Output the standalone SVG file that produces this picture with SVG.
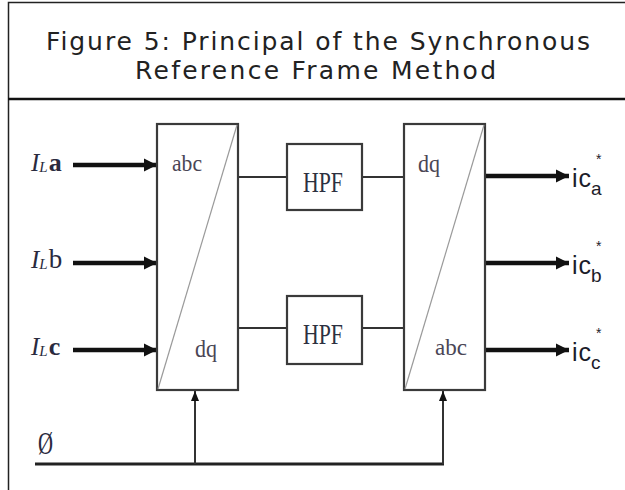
<svg xmlns="http://www.w3.org/2000/svg" width="625" height="490" viewBox="0 0 625 490">
<defs>
<style>
.title{font-family:"DejaVu Sans","Liberation Sans",sans-serif;font-size:25px;font-weight:400;fill:#222;}
.box{fill:#fff;stroke:#3a3a3a;stroke-width:2.2;}
.diag{stroke:#9a9a9a;stroke-width:1.2;fill:none;}
.blk{font-family:"Liberation Serif","Times New Roman",serif;fill:#4a4656;}
.hpf{font-family:"Liberation Serif","Times New Roman",serif;font-size:29px;fill:#2c3040;}
.thick{stroke:#111;stroke-width:4.5;fill:none;}
.thin{stroke:#333;stroke-width:2;fill:none;}
.ser{font-family:"Liberation Serif","Times New Roman",serif;fill:#2a2a3e;}
.san{font-family:"Liberation Sans",Arial,sans-serif;fill:#1c1c2a;}
</style>
<marker id="ah" viewBox="0 0 10 10" refX="10" refY="5" markerWidth="3" markerHeight="3" orient="auto" markerUnits="strokeWidth">
<path d="M0,0 L10,5 L0,10 z" fill="#111"/>
</marker>
<marker id="ahs" viewBox="0 0 10 10" refX="10" refY="5" markerWidth="5" markerHeight="5" orient="auto" markerUnits="strokeWidth">
<path d="M0,1 L10,5 L0,9 z" fill="#111"/>
</marker>
</defs>
<rect x="0" y="0" width="625" height="490" fill="#fff"/>
<g id="frame">
<path d="M8.5,490 V2.5 H625" fill="none" stroke="#222" stroke-width="1.5"/>
<line x1="8" y1="99" x2="625" y2="99" stroke="#111" stroke-width="2.5"/>
</g>
<g id="title">
<text class="title" x="46" y="50" textLength="544" lengthAdjust="spacing">Figure 5: Principal of the Synchronous</text>
<text class="title" x="135" y="79" textLength="361" lengthAdjust="spacing">Reference Frame Method</text>
</g>
<g id="connectors">
<line class="thick" x1="73" y1="165" x2="157" y2="165" marker-end="url(#ah)"/>
<line class="thick" x1="73" y1="263" x2="157" y2="263" marker-end="url(#ah)"/>
<line class="thick" x1="73" y1="350" x2="157" y2="350" marker-end="url(#ah)"/>
<line class="thin" x1="238" y1="177" x2="287" y2="177"/>
<line class="thin" x1="362" y1="177" x2="404" y2="177"/>
<line class="thin" x1="238" y1="328" x2="287" y2="328"/>
<line class="thin" x1="362" y1="328" x2="404" y2="328"/>
<line class="thick" x1="485" y1="176" x2="569" y2="176" marker-end="url(#ah)"/>
<line class="thick" x1="485" y1="263" x2="569" y2="263" marker-end="url(#ah)"/>
<line class="thick" x1="485" y1="350" x2="569" y2="350" marker-end="url(#ah)"/>
<line x1="35" y1="464" x2="444" y2="464" stroke="#222" stroke-width="3"/>
<line class="thin" x1="195" y1="464" x2="195" y2="391" marker-end="url(#ahs)"/>
<line class="thin" x1="443" y1="464" x2="443" y2="391" marker-end="url(#ahs)"/>
</g>
<g id="abc2dq">
<rect class="box" x="157" y="124" width="81" height="266"/>
<line class="diag" x1="237" y1="125" x2="158" y2="389"/>
<text class="blk" x="172" y="171" font-size="23" textLength="30" lengthAdjust="spacingAndGlyphs">abc</text>
<text class="blk" x="195" y="357" font-size="25" textLength="22" lengthAdjust="spacingAndGlyphs">dq</text>
</g>
<g id="hpf1">
<rect class="box" x="287" y="144" width="75" height="66"/>
<text class="hpf" x="303" y="192" textLength="40" lengthAdjust="spacingAndGlyphs">HPF</text>
</g>
<g id="hpf2">
<rect class="box" x="287" y="296" width="75" height="68"/>
<text class="hpf" x="303" y="344" textLength="40" lengthAdjust="spacingAndGlyphs">HPF</text>
</g>
<g id="dq2abc">
<rect class="box" x="404" y="124" width="81" height="266"/>
<line class="diag" x1="484" y1="125" x2="405" y2="389"/>
<text class="blk" x="418" y="172" font-size="25" textLength="22" lengthAdjust="spacingAndGlyphs">dq</text>
<text class="blk" x="435" y="355" font-size="23" textLength="32" lengthAdjust="spacingAndGlyphs">abc</text>
</g>
<g id="inputs">
<text class="ser" x="31" y="171"><tspan font-size="25" font-style="italic">I</tspan><tspan font-size="15" font-style="italic" dy="1">L</tspan><tspan font-size="26" font-weight="bold" dy="-1" dx="1">a</tspan></text>
<text class="ser" x="31" y="268"><tspan font-size="25" font-style="italic">I</tspan><tspan font-size="15" font-style="italic" dy="1">L</tspan><tspan font-size="27" dy="-1" dx="1">b</tspan></text>
<text class="ser" x="31" y="355"><tspan font-size="25" font-style="italic">I</tspan><tspan font-size="15" font-style="italic" dy="1">L</tspan><tspan font-size="26" font-weight="bold" dy="-1" dx="1">c</tspan></text>
<text class="ser" x="38" y="454" font-size="32" fill="#555" textLength="15" lengthAdjust="spacingAndGlyphs">Ø</text>
</g>
<g id="outputs">
<text class="san" x="572" y="187" font-size="25">i<tspan dx="1">c</tspan><tspan font-size="19" dy="8">a</tspan></text>
<text class="san" x="596" y="164" font-size="14">*</text>
<text class="san" x="572" y="274" font-size="25">i<tspan dx="1">c</tspan><tspan font-size="19" dy="8">b</tspan></text>
<text class="san" x="596" y="251" font-size="14">*</text>
<text class="san" x="572" y="361" font-size="25">i<tspan dx="1">c</tspan><tspan font-size="19" dy="8">c</tspan></text>
<text class="san" x="596" y="338" font-size="14">*</text>
</g>
</svg>
